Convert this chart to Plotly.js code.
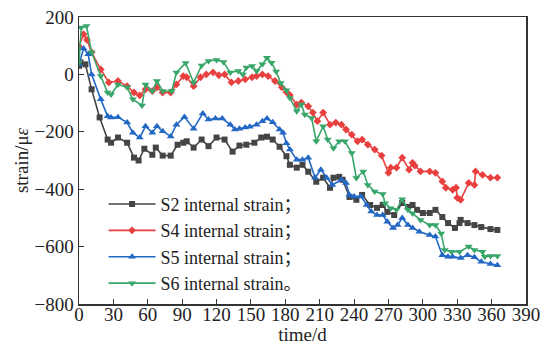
<!DOCTYPE html>
<html>
<head>
<meta charset="utf-8">
<script src="https://cdn.plot.ly/plotly-3.0.1.min.js"></script>
<style>html,body{margin:0;padding:0;background:#fff;}#chart{width:547px;height:345px;}</style>
</head>
<body>
<div id="chart"></div>
<script>
// S2 internal strain
const s2Days = [0,1.3,5.6,11,18,25,28,34,42,48,52,57,64,67,73,80,86,91,94,100,107,113,120,127,134,140,146,153,159,164,169,175,181,184,190,195,200,207,213,219,222,227,230,236,242,247,254,260,265,269,275,282,287,291,295,300,306,311,317,322,328,332,333,339,345,351,359,365];
const s2Vals = [30,42,35,-52,-150,-227,-238,-220,-238,-290,-300,-259,-280,-255,-283,-283,-245,-238,-233,-255,-227,-250,-220,-227,-269,-248,-245,-238,-220,-217,-227,-252,-285,-315,-325,-315,-339,-374,-360,-395,-360,-357,-367,-427,-437,-420,-455,-465,-455,-479,-490,-448,-462,-455,-472,-483,-483,-472,-497,-518,-535,-518,-507,-518,-525,-532,-539,-542];
// S4 internal strain
const s4Days = [0,4,7,11,19,26,34,42,48,53,58,64,68,73,80,85,91,94,100,106,111,117,122,127,133,139,145,151,155,160,165,171,177,181,184,190,194,200,204,208,213,219,224,229,233,238,243,247,252,258,264,270,272,277,282,288,291,293,298,306,311,317,320,326,329,330,333,340,345,346,352,359,365];
const s4Vals = [98,140,120,77,17,-28,-23,-41,-63,-73,-52,-58,-45,-63,-63,-35,-6,-10,-41,-10,0,7,-3,0,-28,-23,-17,-10,-6,0,-6,-23,-45,-62,-72,-105,-98,-111,-133,-163,-133,-175,-168,-175,-192,-210,-233,-227,-245,-262,-283,-343,-325,-325,-290,-332,-308,-318,-338,-338,-343,-373,-395,-402,-395,-430,-437,-378,-385,-338,-350,-360,-360];
// S5 internal strain
const s5Days = [0,4,8,11,19,25,28,34,42,47,53,58,64,68,73,80,85,92,100,108,113,119,125,132,136,140,145,149,155,160,164,169,175,178,181,184,190,195,200,206,211,216,221,229,233,236,240,246,251,255,260,265,269,274,278,282,287,291,297,306,311,317,322,326,333,339,345,351,359,365];
const s5Vals = [35,90,70,0,-87,-146,-150,-149,-168,-203,-220,-181,-203,-181,-198,-216,-175,-148,-189,-136,-157,-154,-154,-175,-192,-189,-185,-182,-175,-163,-154,-167,-192,-203,-240,-262,-297,-297,-290,-360,-332,-360,-385,-367,-378,-420,-425,-425,-455,-478,-490,-490,-513,-535,-525,-500,-525,-535,-548,-560,-565,-630,-635,-635,-640,-630,-637,-653,-661,-665];
// S6 internal strain
const s6Days = [0,2,6.5,11,19,25,28,34,42,47,55,58,64,68,73,81,85,93,100,107,113,120,126,132,139,143,146,151,155,160,164,168,172,176,181,184,190,194,197,203,207,213,217,222,227,232,238,242,248,252,258,265,267,272,277,282,287,291,298,306,311,316,319,325,332,340,345,352,354,359,365];
const s6Vals = [42,163,169,77,-6,-63,-70,-35,-45,-87,-108,-35,-58,-23,-58,-58,7,40,-28,31,47,50,43,7,12,0,24,29,12,35,58,41,10,-30,-55,-82,-128,-105,-140,-152,-233,-181,-227,-257,-233,-233,-274,-361,-338,-385,-408,-417,-449,-466,-472,-435,-472,-484,-507,-525,-525,-554,-612,-618,-618,-600,-612,-618,-635,-633,-633];

const seriesNames = ['S2 internal strain；','S4 internal strain；','S5 internal strain；','S6 internal strain。'];
const xTickVals = [0,30,60,90,120,150,180,210,240,270,300,330,360,390];
const yTickVals = [200,0,-200,-400,-600,-800];

const colors = ['#454545','#e8403f','#2268c4','#39a66a'];
const symbols = ['square','diamond','triangle-up','triangle-down'];
const sizes = [6,6,7,7];
const days = [s2Days,s4Days,s5Days,s6Days];
const vals = [s2Vals,s4Vals,s5Vals,s6Vals];

const traces = days.map((d,i)=>({
  x: d, y: vals[i], type:'scatter', mode:'lines+markers', name: seriesNames[i],
  line:{color:colors[i], width:1.6},
  marker:{symbol:symbols[i], size:sizes[i], color:colors[i]}
}));

const font = 'Liberation Serif, Times New Roman, Noto Sans CJK SC, serif';
const layout = {
  width:547, height:345,
  margin:{l:78.5, r:20.5, t:17, b:41},
  paper_bgcolor:'#fff', plot_bgcolor:'#fff',
  font:{family:font, size:18, color:'#222'},
  showlegend:true,
  legend:{x:0.055, y:0.412, xanchor:'left', yanchor:'top', bgcolor:'rgba(0,0,0,0)', font:{family:font, size:18, color:'#222'}, itemwidth:47, tracegroupgap:0},
  xaxis:{range:[0,390], tickvals:xTickVals, ticks:'inside', ticklen:5, tickwidth:1, tickcolor:'#333',
    showline:true, linecolor:'#333', linewidth:1.5, mirror:true, showgrid:false, zeroline:false,
    ticklabelstandoff:-7,
    tickfont:{family:font, size:19, color:'#222'},
    title:{text:'time/d', font:{family:font, size:19, color:'#222'}}},
  yaxis:{range:[-800,200], tickvals:yTickVals, ticks:'inside', ticklen:5, tickwidth:1, tickcolor:'#333',
    showline:true, linecolor:'#333', linewidth:1.5, mirror:true, showgrid:false, zeroline:false,
    automargin:'left',
    tickfont:{family:font, size:19, color:'#222'},
    title:{text:'strain/μ<i>ε</i>', font:{family:font, size:19, color:'#222'}, standoff:1}}
};
Plotly.newPlot('chart', traces, layout, {displayModeBar:false, staticPlot:true});
</script>
</body>
</html>
